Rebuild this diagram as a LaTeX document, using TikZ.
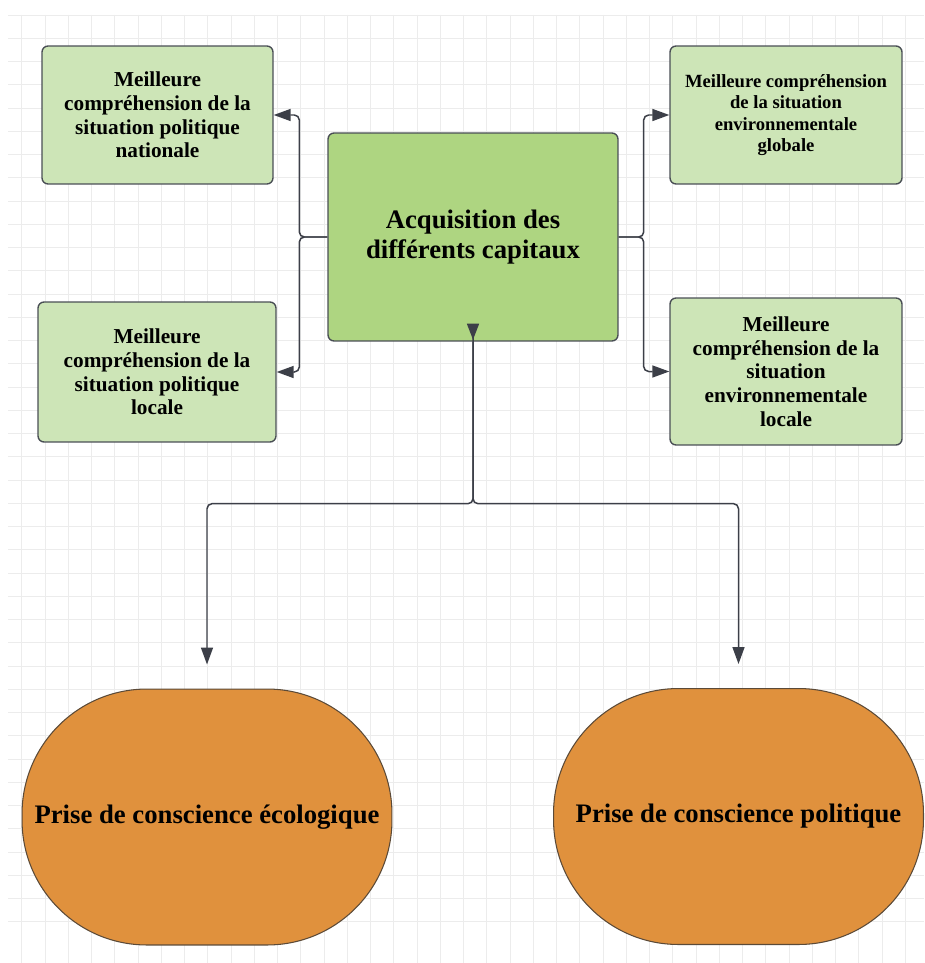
\documentclass[tikz,border=0pt]{standalone}
\usepackage{fontspec}
\setmainfont{Liberation Serif}
\usetikzlibrary{arrows.meta}

\definecolor{gridgray}{HTML}{ECECEC}
\definecolor{boxline}{HTML}{4A4F55}
\definecolor{infogreen}{HTML}{CDE5B7}
\definecolor{maingreen}{HTML}{AED581}
\definecolor{goalorange}{HTML}{E0913D}
\definecolor{goalline}{HTML}{5B4A38}
\definecolor{linkgray}{HTML}{3C3F48}

\begin{document}
\begin{tikzpicture}[x=0.02cm, y=-0.02cm,
    grid line/.style={draw=gridgray, line width=0.4pt},
    info box/.style={draw=boxline, fill=infogreen, line width=0.8pt, rounded corners=0.12cm,
        align=center, inner sep=2pt, font=\bfseries\fontsize{12.1}{13.5}\selectfont},
    main box/.style={draw=boxline, fill=maingreen, line width=0.8pt, rounded corners=0.12cm,
        align=center, inner sep=2pt, font=\bfseries\fontsize{15.2}{17}\selectfont},
    goal node/.style={draw=goalline, fill=goalorange, line width=0.6pt, rounded corners=2.5cm,
        minimum width=7.4cm, minimum height=5.12cm, inner sep=2pt, font=\bfseries\fontsize{15.2}{17}\selectfont},
    connector/.style={draw=linkgray, line width=0.85pt, rounded corners=0.1cm,
        -{Triangle[length=0.34cm, width=0.24cm]}}]
    \fill[white] (0,0) rectangle (924,963);
    \useasboundingbox (0,0) rectangle (924,963);

    % background grid
    \begin{scope}
        \clip (8,15) rectangle (924,963);
        \foreach \k in {0,...,39} {
            \draw[grid line] ({21.7+23.25*\k},15) -- ++(0,948);
            \draw[grid line] (8,{15+23.25*\k}) -- ++(916,0);
        }
    \end{scope}

    \node[info box, minimum width=4.62cm, minimum height=2.76cm] (polnat) at (157.5,115)
        {Meilleure\\compréhension de la\\situation politique\\nationale};
    \node[info box, minimum width=4.76cm, minimum height=2.8cm] (polloc) at (157,372)
        {Meilleure\\compréhension de la\\situation politique\\locale};
    \node[info box, font=\bfseries\fontsize{10.6}{12.1}\selectfont, minimum width=4.64cm, minimum height=2.76cm] (envglob) at (786,115)
        {Meilleure compréhension\\de la situation\\environnementale\\globale};
    \node[info box, minimum width=4.64cm, minimum height=2.94cm] (envloc) at (786,371.5)
        {Meilleure\\compréhension de la\\situation\\environnementale\\locale};
    \node[main box, minimum width=5.8cm, minimum height=4.16cm] (acq) at (473,237)
        {Acquisition des\\différents capitaux};
    \node[goal node] (eco) at (207,817) {Prise de conscience écologique};
    \node[goal node] (pol) at (738.5,816.5) {Prise de conscience politique};

    \draw[connector] (acq.west) -- ++(-28,0) |- (polnat.east);
    \draw[connector] (acq.west) -- ++(-28,0) |- (polloc.east);
    \draw[connector] (acq.east) -- ++(25,0) |- (envglob.west);
    \draw[connector] (acq.east) -- ++(25,0) |- (envloc.west);
    \draw[connector, {Triangle[reversed, length=0.32cm, width=0.24cm]}-{Triangle[length=0.34cm, width=0.24cm]},
        shorten <=-0.36cm, shorten >=0.48cm]
        (acq.south) -- ++(0,162) -| (eco.north);
    \draw[connector, shorten >=0.48cm] (acq.south) -- ++(0,162) -| (pol.north);
\end{tikzpicture}
\end{document}
